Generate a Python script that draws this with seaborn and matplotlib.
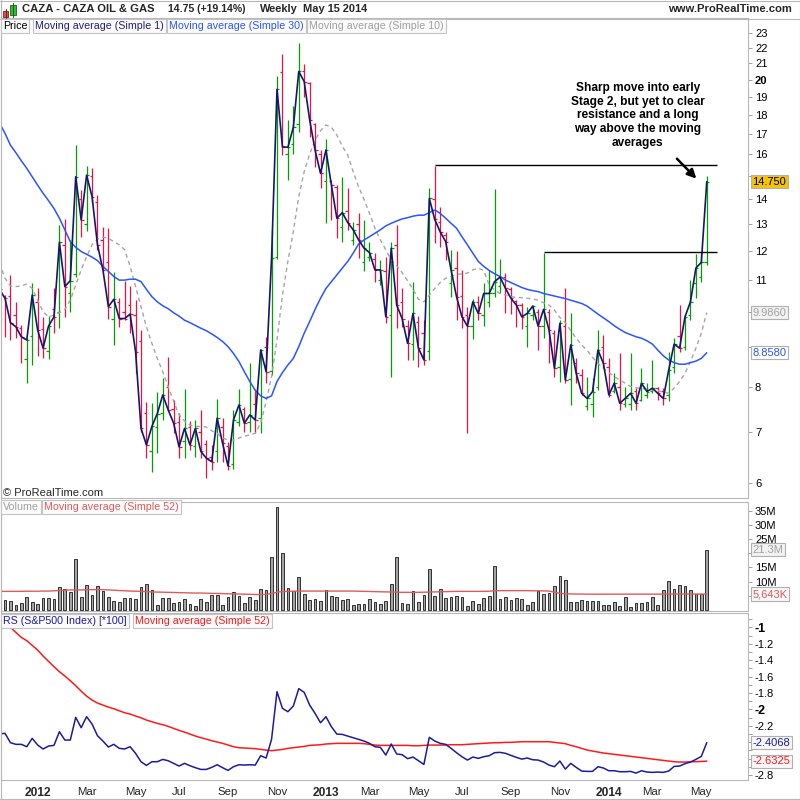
import numpy as np
import pandas as pd
import matplotlib
matplotlib.use("Agg")
import matplotlib.pyplot as plt
import matplotlib.ticker as mticker
import matplotlib.transforms as mtransforms
from matplotlib.patches import Rectangle
from matplotlib.lines import Line2D
import seaborn as sns

sns.set_style("white")
plt.rcParams["font.family"] = ["Liberation Sans", "DejaVu Sans"]
plt.rcParams["axes.unicode_minus"] = False

# ---------------- data (weekly bars, last bar = week of May 15 2014) ----------------
last_week = "2014-05-12"

opens = [10.9, 10.5, 10.5, 9.9, 9.55, 8.7, 9.3, 10.3, 9.5, 8.9,
         10.1, 10.0, 12.2, 10.6, 11.2, 14.0, 13.0, 15.0, 13.9, 12.4,
         11.6, 9.8, 10.3, 10.0, 10.2, 9.9, 9.18, 7.4, 6.6, 7.1,
         7.4, 8.0, 7.5, 7.2, 6.8, 7.1, 6.7, 7.0, 6.75, 6.5,
         6.6, 7.1, 6.7, 6.35, 7.2, 7.5, 7.2, 7.6, 7.3, 9.0,
         8.4, 11.8, 20.44, 16.0, 16.5, 17.5, 20.5, 19.8, 17.5, 16.0,
         14.8, 14.8, 14.5, 12.9, 13.5, 12.4, 13.0, 11.6, 11.8, 11.7,
         11.0, 11.3, 9.9, 12.2, 10.3, 9.6, 9.1, 9.7, 9.4, 8.9,
         14.0, 13.1, 12.6, 10.9, 11.4, 10.5, 9.9, 9.6, 10.3, 9.9,
         10.3, 10.6, 10.8, 11.1, 10.7, 10.35, 10.2, 9.6, 9.9, 10.0,
         9.6, 10.0, 9.4, 8.5, 9.6, 8.2, 8.6, 8.3, 7.55, 7.6,
         8.0, 9.0, 8.5, 7.9, 8.0, 7.6, 7.6, 7.9, 7.7, 7.8,
         7.9, 7.98, 7.9, 7.8, 8.5, 9.3, 9.0, 9.9, 10.9, 11.1,
         11.6]
highs = [11.0, 10.52, 11.18, 10.31, 9.62, 9.25, 10.89, 10.76, 9.86, 9.88,
         10.73, 12.97, 13.20, 12.40, 16.45, 14.39, 15.46, 15.35, 14.18, 12.90,
         12.84, 11.26, 10.42, 10.98, 10.81, 10.36, 9.48, 7.65, 7.62, 7.89,
         8.21, 8.74, 7.70, 7.40, 7.95, 7.22, 7.25, 7.47, 6.83, 6.73,
         7.71, 7.29, 6.79, 7.47, 7.95, 7.54, 8.58, 7.95, 8.95, 9.29,
         12.78, 20.22, 21.58, 17.74, 18.49, 22.33, 20.95, 19.85, 17.56, 16.21,
         16.73, 14.82, 14.60, 14.97, 14.46, 13.10, 13.45, 13.16, 12.34, 11.92,
         11.68, 11.80, 12.31, 12.97, 10.73, 9.76, 10.95, 9.88, 9.76, 14.46,
         15.47, 13.66, 12.70, 12.04, 12.01, 11.34, 10.16, 10.39, 10.49, 10.89,
         11.34, 14.42, 11.70, 11.23, 10.79, 10.36, 10.26, 10.16, 10.21, 10.08,
         11.92, 10.08, 9.48, 9.76, 10.73, 9.98, 8.71, 8.43, 8.25, 8.21,
         9.48, 9.34, 8.71, 8.33, 8.84, 8.01, 8.84, 7.97, 8.46, 8.09,
         8.67, 8.01, 7.97, 8.89, 9.25, 10.21, 9.91, 11.00, 11.90, 11.95,
         15.0]
lows = [10.26, 9.29, 9.20, 9.25, 8.58, 8.09, 8.54, 8.78, 8.71, 8.69,
        9.39, 9.53, 9.86, 10.01, 11.1, 12.52, 12.75, 13.83, 12.04, 11.3,
        9.81, 9.07, 9.57, 9.78, 9.39, 8.33, 7.0, 6.47, 6.21, 6.57,
        7.25, 7.45, 6.97, 6.47, 6.47, 6.63, 6.50, 6.47, 6.09, 6.24,
        6.40, 6.40, 6.24, 6.27, 7.11, 7.0, 7.0, 6.97, 6.97, 8.09,
        8.29, 11.7, 15.97, 14.82, 16.02, 17.12, 19.0, 16.87, 15.42, 14.46,
        13.05, 13.16, 12.46, 12.34, 12.78, 12.22, 11.74, 11.29, 11.63, 10.95,
        10.84, 9.67, 8.25, 9.53, 9.57, 8.67, 8.67, 8.48, 8.54, 8.67,
        12.28, 12.13, 11.68, 10.47, 9.76, 9.53, 6.97, 9.22, 9.78, 9.59,
        10.16, 10.47, 10.57, 9.96, 9.94, 9.57, 9.50, 9.02, 9.76, 8.93,
        9.25, 8.60, 8.25, 8.13, 8.09, 7.58, 8.09, 7.81, 7.47, 7.32,
        7.93, 8.46, 7.77, 7.85, 7.47, 7.54, 7.47, 7.47, 7.66, 7.73,
        7.85, 7.70, 7.58, 7.66, 8.33, 8.89, 8.93, 9.76, 10.42, 10.94,
        11.5]
closes = [10.70, 10.42, 9.69, 9.57, 9.29, 9.20, 10.52, 9.48, 8.98, 9.59,
          9.86, 12.31, 10.79, 10.98, 14.97, 13.16, 15.04, 14.11, 12.22, 11.34,
          10.16, 10.39, 9.81, 9.81, 9.94, 8.89, 7.07, 6.73, 7.11, 7.39,
          7.81, 7.47, 7.18, 6.69, 7.07, 6.73, 7.07, 6.60, 6.47, 6.40,
          7.29, 6.76, 6.32, 7.25, 7.58, 7.18, 7.36, 7.25, 8.93, 8.37,
          11.74, 19.43, 16.37, 16.34, 17.35, 20.49, 19.88, 17.74, 16.21, 15.12,
          16.21, 14.60, 13.23, 13.45, 13.06, 12.78, 12.40, 12.10, 11.94, 11.34,
          11.34, 9.86, 12.10, 10.21, 9.81, 9.11, 9.96, 8.98, 8.67, 14.03,
          13.18, 12.70, 12.34, 11.34, 10.47, 9.86, 9.59, 10.31, 9.96, 10.57,
          10.57, 10.95, 11.10, 10.73, 10.42, 10.21, 9.86, 9.96, 10.18, 9.59,
          10.08, 9.48, 8.46, 9.67, 8.17, 9.07, 8.33, 7.85, 7.73, 7.89,
          8.93, 8.58, 7.81, 8.09, 7.62, 7.73, 7.85, 7.62, 8.09, 7.89,
          7.97, 7.85, 7.73, 8.41, 9.09, 8.98, 9.86, 10.31, 11.40, 11.60,
          14.75]
sma30 = [17.56, 17.04, 16.45, 16.08, 15.70, 15.35, 14.97, 14.60, 14.25, 13.94,
         13.62, 13.23, 12.78, 12.34, 12.13, 11.98, 11.88, 11.78, 11.66, 11.46,
         11.29, 11.12, 11.00, 11.00, 11.03, 11.03, 10.95, 10.70, 10.47, 10.31,
         10.19, 10.10, 9.98, 9.88, 9.76, 9.69, 9.61, 9.53, 9.46, 9.37,
         9.27, 9.16, 9.02, 8.84, 8.63, 8.37, 8.13, 7.92, 7.79, 7.73,
         7.79, 8.13, 8.35, 8.54, 8.71, 9.02, 9.39, 9.72, 10.08, 10.42,
         10.73, 10.95, 11.18, 11.40, 11.63, 11.92, 12.25, 12.40, 12.52, 12.65,
         12.78, 12.93, 13.03, 13.12, 13.20, 13.25, 13.31, 13.35, 13.35, 13.45,
         13.56, 13.42, 13.23, 13.03, 12.84, 12.52, 12.22, 11.92, 11.63, 11.46,
         11.32, 11.21, 11.12, 11.00, 10.92, 10.84, 10.76, 10.70, 10.66, 10.63,
         10.57, 10.53, 10.49, 10.45, 10.41, 10.36, 10.31, 10.26, 10.18, 10.06,
         9.94, 9.83, 9.72, 9.60, 9.50, 9.41, 9.35, 9.29, 9.25, 9.18,
         9.09, 8.93, 8.78, 8.67, 8.60, 8.56, 8.56, 8.60, 8.64, 8.71,
         8.858]
sma10 = [11.57, 11.06, 10.81, 10.79, 10.81, 10.87, 10.73, 10.36, 10.01, 9.86,
         9.91, 9.98, 10.08, 10.36, 10.84, 11.34, 11.80, 12.22, 12.43, 12.50,
         12.46, 12.34, 12.22, 12.04, 11.46, 10.79, 10.16, 9.57, 9.11, 8.71,
         8.37, 8.01, 7.66, 7.36, 7.23, 7.14, 7.11, 7.11, 7.10, 7.02,
         6.96, 6.87, 6.83, 6.83, 6.87, 6.91, 6.93, 6.97, 7.18, 7.66,
         8.25, 9.20, 10.52, 11.63, 12.71, 14.11, 15.20, 16.02, 16.70, 17.17,
         17.47, 17.35, 16.95, 16.40, 15.97, 15.20, 14.53, 13.99, 13.42, 12.84,
         12.40, 12.04, 11.68, 11.48, 11.25, 10.98, 10.70, 10.39, 10.31, 10.52,
         10.73, 10.92, 11.06, 11.12, 11.18, 11.21, 11.23, 11.34, 11.40, 11.32,
         10.84, 10.68, 10.57, 10.52, 10.47, 10.45, 10.44, 10.42, 10.40, 10.36,
         10.28, 10.21, 10.06, 9.84, 9.69, 9.46, 9.25, 9.07, 8.92, 8.74,
         8.58, 8.46, 8.35, 8.25, 8.17, 8.09, 8.01, 7.98, 7.96, 7.95,
         7.93, 7.91, 7.88, 7.85, 7.97, 8.13, 8.33, 8.63, 8.98, 9.39,
         9.986]
volume_m = [3.0, 3.39, 3.04, 1.75, 2.45, 4.57, 2.8, 2.1, 4.2, 4.2,
            3.99, 8.09, 7.38, 6.2, 17.95, 4.57, 9.0, 5.26, 8.45, 6.67,
            4.57, 3.04, 2.92, 4.2, 4.2, 3.87, 8.09, 9.24, 7.0, 1.75,
            4.2, 4.2, 2.45, 2.7, 3.87, 2.0, 1.4, 3.87, 2.8, 5.14,
            5.14, 1.75, 4.57, 6.2, 5.0, 2.45, 4.7, 3.5, 7.38, 7.14,
            18.65, 36.3, 20.06, 7.7, 6.8, 11.6, 5.6, 3.5, 3.87, 3.16,
            7.0, 4.8, 4.57, 3.56, 3.8, 1.8, 2.15, 2.15, 3.8, 2.85,
            2.15, 3.2, 9.2, 18.7, 2.5, 2.15, 6.7, 2.85, 5.3, 14.4,
            4.93, 7.28, 4.11, 4.46, 4.81, 4.46, 1.29, 3.29, 2.0, 4.11,
            4.81, 15.5, 3.76, 4.46, 3.4, 4.11, 3.76, 1.64, 2.7, 6.57,
            5.63, 6.1, 8.33, 12.09, 10.56, 2.82, 2.82, 3.4, 3.05, 3.05,
            3.05, 1.64, 1.64, 2.7, 1.29, 4.46, 0.94, 2.35, 2.35, 2.7,
            4.46, 1.64, 6.92, 10.09, 7.28, 8.69, 8.33, 6.92, 5.52, 5.52,
            21.3]
volume_ma52_m = [6.6, 6.6, 6.6, 6.6, 6.6, 6.65, 6.65, 6.65, 6.7, 6.7,
                 6.8, 6.9, 7.0, 7.1, 7.1, 7.1, 7.15, 7.2, 7.2, 7.2,
                 7.1, 7.0, 6.9, 6.8, 6.7, 6.65, 6.6, 6.5, 6.4, 6.35,
                 6.3, 6.25, 6.2, 6.15, 6.1, 6.05, 6.0, 6.0, 5.95, 5.9,
                 5.85, 5.8, 5.75, 5.7, 5.65, 5.6, 5.55, 5.5, 5.5, 5.55,
                 5.8, 6.3, 6.55, 6.6, 6.65, 6.7, 6.7, 6.7, 6.7, 6.7,
                 6.7, 6.7, 6.7, 6.7, 6.7, 6.7, 6.65, 6.6, 6.55, 6.5,
                 6.45, 6.4, 6.4, 6.3, 6.25, 6.25, 6.25, 6.25, 6.3, 6.35,
                 6.4, 6.45, 6.5, 6.55, 6.6, 6.6, 6.6, 6.6, 6.6, 6.6,
                 6.65, 6.8, 6.85, 6.85, 6.85, 6.85, 6.85, 6.85, 6.8, 6.8,
                 6.75, 6.7, 6.3, 5.9, 5.7, 5.7, 5.65, 5.65, 5.6, 5.6,
                 5.6, 5.6, 5.6, 5.6, 5.6, 5.6, 5.6, 5.6, 5.6, 5.6,
                 5.6, 5.6, 5.62, 5.64, 5.66, 5.66, 5.66, 5.66, 5.65, 5.64,
                 5.643]
rs = [-2.300, -2.293, -2.407, -2.427, -2.427, -2.456, -2.354, -2.435, -2.484, -2.448,
      -2.440, -2.273, -2.375, -2.375, -2.098, -2.224, -2.090, -2.179, -2.322, -2.387,
      -2.460, -2.427, -2.476, -2.484, -2.456, -2.537, -2.639, -2.684, -2.639, -2.639,
      -2.611, -2.627, -2.659, -2.692, -2.659, -2.688, -2.712, -2.733, -2.733, -2.708,
      -2.676, -2.712, -2.745, -2.700, -2.676, -2.680, -2.676, -2.680, -2.566, -2.594,
      -2.366, -1.785, -1.988, -2.029, -1.960, -1.748, -1.793, -1.948, -2.050, -2.164,
      -2.090, -2.212, -2.302, -2.306, -2.326, -2.346, -2.366, -2.387, -2.415, -2.456,
      -2.464, -2.558, -2.423, -2.545, -2.553, -2.602, -2.582, -2.627, -2.672, -2.342,
      -2.387, -2.415, -2.427, -2.476, -2.529, -2.578, -2.619, -2.582, -2.598, -2.578,
      -2.566, -2.529, -2.525, -2.537, -2.562, -2.586, -2.607, -2.594, -2.615, -2.619,
      -2.643, -2.680, -2.700, -2.631, -2.729, -2.659, -2.708, -2.753, -2.757, -2.757,
      -2.700, -2.716, -2.749, -2.749, -2.761, -2.761, -2.757, -2.778, -2.749, -2.765,
      -2.769, -2.765, -2.769, -2.753, -2.696, -2.692, -2.663, -2.643, -2.611, -2.574,
      -2.4068]
rs_ma52 = [-0.887, -0.944, -1.001, -1.062, -1.123, -1.163, -1.220, -1.277, -1.350, -1.415,
           -1.480, -1.541, -1.594, -1.651, -1.712, -1.778, -1.839, -1.887, -1.924, -1.948,
           -1.973, -1.993, -2.017, -2.042, -2.058, -2.082, -2.103, -2.131, -2.151, -2.172,
           -2.188, -2.208, -2.233, -2.257, -2.278, -2.302, -2.326, -2.346, -2.363, -2.383,
           -2.399, -2.415, -2.436, -2.456, -2.468, -2.472, -2.476, -2.480, -2.489, -2.497,
           -2.505, -2.497, -2.489, -2.476, -2.468, -2.460, -2.452, -2.440, -2.436, -2.432,
           -2.423, -2.419, -2.415, -2.415, -2.415, -2.415, -2.415, -2.419, -2.427, -2.436,
           -2.440, -2.440, -2.440, -2.440, -2.440, -2.440, -2.444, -2.444, -2.440, -2.436,
           -2.436, -2.436, -2.436, -2.432, -2.432, -2.432, -2.427, -2.423, -2.419, -2.415,
           -2.411, -2.407, -2.407, -2.403, -2.403, -2.399, -2.395, -2.395, -2.395, -2.395,
           -2.395, -2.395, -2.403, -2.411, -2.419, -2.440, -2.456, -2.476, -2.497, -2.509,
           -2.521, -2.533, -2.541, -2.550, -2.558, -2.566, -2.574, -2.582, -2.590, -2.598,
           -2.607, -2.615, -2.623, -2.631, -2.639, -2.643, -2.643, -2.639, -2.639, -2.635,
           -2.6325]

price_ticks = list(range(6, 24))
price_hidden = {9, 10, 15}            # covered by the value boxes in the reference
volume_ticks = [5, 10, 15, 20, 25, 30, 35]
volume_hidden = {5, 20}
rs_ticks = [-1.0, -1.2, -1.4, -1.6, -1.8, -2.0, -2.2, -2.4, -2.6, -2.8]
rs_tick_labels = ["-1", "-1.2", "-1.4", "-1.6", "-1.8", "-2", "-2.2", "", "", "-2.8"]
resistance_levels = [15.5, 11.95]
resistance_start_bar = [80, 100]
note = "Sharp move into early\nStage 2, but yet to clear\nresistance and a long\nway above the moving\naverages"

# ---------------- figure / layout ----------------
W, H = 800, 800
fig = plt.figure(figsize=(8, 8), dpi=100)
fig.patch.set_facecolor("white")


def axes_px(l, t, r, b):
    return fig.add_axes([l / W, 1 - b / H, (r - l) / W, (b - t) / H])


n = len(closes)
df = pd.DataFrame({
    "i": np.arange(n),
    "date": pd.date_range(end=last_week, periods=n, freq="W-MON"),
    "open": opens, "high": highs, "low": lows, "close": closes,
    "sma30": sma30, "sma10": sma10,
    "vol": volume_m, "vol_ma": volume_ma52_m,
    "rs": rs, "rs_ma": rs_ma52,
})

XL = 1 + (1 - 5) / 5.44
XR = 1 + (748 - 5) / 5.44
GREEN, RED = "#00a000", "#ee1040"
SPINE = "#b8b8b8"


def style_axes(ax):
    for s in ax.spines.values():
        s.set_color(SPINE)
        s.set_linewidth(0.8)
    ax.set_xlim(XL, XR)
    ax.set_xlabel("")
    ax.set_ylabel("")
    ax.yaxis.tick_right()
    ax.tick_params(axis="y", direction="out", length=3, width=0.6, color="#909090",
                   labelsize=8, pad=2, labelcolor="black")
    ax.grid(False)


def value_box(ax, val, text, color, face):
    tr = mtransforms.blended_transform_factory(ax.transAxes, ax.transData)
    ax.text(1.006, val, text, transform=tr, ha="left", va="center", fontsize=8,
            color=color, clip_on=False, zorder=20,
            bbox=dict(boxstyle="square,pad=0.15", fc=face, ec="#b0b0b0", lw=0.8))


def legend_row(items, y):
    for txt, col, xpx in items:
        fig.text(xpx / W, 1 - y / H, txt, color=col, fontsize=7.7, va="center", ha="left",
                 bbox=dict(boxstyle="square,pad=0.18", fc="#fbfbfb", ec="#c4c4c4", lw=0.8),
                 zorder=30)


def bold_labels(labels, targets, size=None):
    for lab in labels:
        if lab.get_text() in targets:
            lab.set_fontweight("bold")
            if size:
                lab.set_fontsize(size)


# ---------------- price panel ----------------
axp = axes_px(1, 18, 748, 497.7)
axp.set_yscale("log")
up = df["close"] >= df["open"]
cols = np.where(up, GREEN, RED)
axp.vlines(df["i"], df["low"], df["high"], colors=cols, lw=0.9, zorder=2)
axp.hlines(df["open"], df["i"] - 0.45, df["i"], colors=cols, lw=0.9, zorder=2)
axp.hlines(df["close"], df["i"], df["i"] + 0.45, colors=cols, lw=0.9, zorder=2)
sns.lineplot(data=df, x="i", y="sma10", ax=axp, color="#a6a6a6", lw=1.0,
             linestyle=(0, (3, 2.5)), zorder=3)
sns.lineplot(data=df, x="i", y="sma30", ax=axp, color="#2a55ff", lw=1.1, zorder=3)
sns.lineplot(data=df, x="i", y="close", ax=axp, color="#16166e", lw=1.2, zorder=4)

end_x = 1 + (717 - 5) / 5.44
for lvl, st in zip(resistance_levels, resistance_start_bar):
    axp.hlines(lvl, st, end_x, color="black", lw=1.0, zorder=5)

axp.annotate("", xy=(1 + (698.3 - 5) / 5.44, 14.80), xytext=(1 + (675 - 5) / 5.44, 15.89),
             arrowprops=dict(arrowstyle="-|>", color="black", lw=1.8, mutation_scale=13),
             zorder=6)

style_axes(axp)
axp.set_ylim(5.75, 24.03)
axp.set_yticks(price_ticks, labels=["" if t in price_hidden else str(t) for t in price_ticks])
axp.yaxis.set_minor_locator(mticker.NullLocator())
axp.yaxis.set_minor_formatter(mticker.NullFormatter())
axp.set_xticks([])

value_box(axp, 14.75, "14.750", "black", "#f5c400")
value_box(axp, 9.986, "9.9860", "#a0a0a0", "#f2f2f2")
value_box(axp, 8.858, "8.8580", "#2a55ff", "white")

fig.text(637.7 / W, 1 - 115.3 / H, note, ha="center", va="center", fontsize=8.6,
         fontweight="bold", linespacing=1.2, color="black")
fig.text(3 / W, 1 - 492.7 / H, "© ProRealTime.com", fontsize=8, va="center", ha="left")

# ---------------- volume panel ----------------
axv = axes_px(1, 501.7, 748, 611)
sns.barplot(data=df, x="i", y="vol", ax=axv, native_scale=True, width=0.5,
            color="#a4a4a4", saturation=1, edgecolor="#303030", linewidth=0.7,
            errorbar=None)
sns.lineplot(data=df, x="i", y="vol_ma", ax=axv, color="#e05a5a", lw=1.0)
style_axes(axv)
axv.set_ylim(-0.32, 38.17)
axv.set_yticks(volume_ticks,
               labels=["" if v in volume_hidden else f"{v}M" for v in volume_ticks])
axv.set_xticks([])
value_box(axv, 21.3, "21.3M", "#a0a0a0", "#f2f2f2")
value_box(axv, 5.643, "5,643K", "#e05a5a", "#f7f7f7")

# ---------------- RS panel ----------------
axr = axes_px(1, 613.3, 748, 780)
sns.lineplot(data=df, x="i", y="rs_ma", ax=axr, color="#ff1a1a", lw=1.1)
sns.lineplot(data=df, x="i", y="rs", ax=axr, color="#1c1c9c", lw=1.1)
style_axes(axr)
axr.set_ylim(-2.862, -0.829)
axr.set_yticks(rs_ticks, labels=rs_tick_labels)
axr.yaxis.set_minor_locator(mticker.MultipleLocator(0.1))
axr.tick_params(axis="y", which="minor", direction="out", length=3, width=0.6, color="#909090")
value_box(axr, -2.4068, "-2.4068", "#1c1c9c", "#f7f7f7")
value_box(axr, -2.6325, "-2.6325", "#ff1a1a", "#f7f7f7")

# date ticks: first weekly bar of every other month
dates = df["date"]
tpos, tlab = [], []
for i in range(1, n):
    if dates[i].month != dates[i - 1].month and dates[i].month % 2 == 1:
        tpos.append(i)
        tlab.append(str(dates[i].year) if dates[i].month == 1 else dates[i].strftime("%b"))
axr.set_xticks(tpos, labels=tlab)
axr.tick_params(axis="x", length=0, pad=5, labelsize=8.2)

# ---------------- legends / header ----------------
legend_row([("Price", "black", 3), ("Moving average (Simple 1)", "#20207e", 35),
            ("Moving average (Simple 30)", "#2a55ff", 169),
            ("Moving average (Simple 10)", "#a0a0a0", 309)], 26)
legend_row([("Volume", "#a0a0a0", 3), ("Moving average (Simple 52)", "#e05a5a", 44)], 507)
legend_row([("RS (S&P500 Index) [*100]", "#1c1c9c", 3),
            ("Moving average (Simple 52)", "#ff1a1a", 135)], 621)

hy = 1 - 9.5 / H
fig.text(22 / W, hy, "CAZA - CAZA OIL & GAS", fontsize=8.1, fontweight="bold", va="center")
fig.text(168 / W, hy, "14.75 (+19.14%)", fontsize=7.6, fontweight="bold", va="center")
fig.text(260 / W, hy, "Weekly", fontsize=7.9, fontweight="bold", va="center")
fig.text(303 / W, hy, "May 15 2014", fontsize=7.9, fontweight="bold", va="center")
fig.text(792 / W, hy, "www.ProRealTime.com", fontsize=8.1, fontweight="bold",
         va="center", ha="right")

# little candlestick icon
fig.add_artist(Line2D([5.5 / W] * 2, [1 - 9 / H, 1 - 18 / H], color="#802020", lw=0.8))
fig.add_artist(Rectangle((3 / W, 1 - 17 / H), 5 / W, 6 / H, fc="#e05050", ec="#802020", lw=0.6))
fig.add_artist(Line2D([13 / W] * 2, [1 - 3 / H, 1 - 17 / H], color="#206020", lw=0.8))
fig.add_artist(Rectangle((10 / W, 1 - 15 / H), 6 / W, 10 / H, fc="#30c030", ec="#206020", lw=0.6))

# frame lines
fig.add_artist(Line2D([0, 1], [1 - 19 / H] * 2, color=SPINE, lw=0.8))
fig.add_artist(Line2D([0, 1], [1 - 0.5 / H] * 2, color=SPINE, lw=0.8))
fig.add_artist(Line2D([0, 1], [1 - 798.5 / H] * 2, color=SPINE, lw=0.8))
fig.add_artist(Line2D([799.5 / W] * 2, [0, 1], color=SPINE, lw=0.8))
fig.add_artist(Line2D([0.5 / W] * 2, [0, 1], color=SPINE, lw=0.8))

# bold labels (after a draw so tick label texts exist)
fig.canvas.draw()
bold_labels(axp.get_yticklabels(), {"20"})
bold_labels(axr.get_yticklabels(), {"-1", "-2"}, size=9)
bold_labels(axr.get_xticklabels(), {"2012", "2013", "2014"}, size=8.6)

fig.savefig("out.png", dpi=100)
